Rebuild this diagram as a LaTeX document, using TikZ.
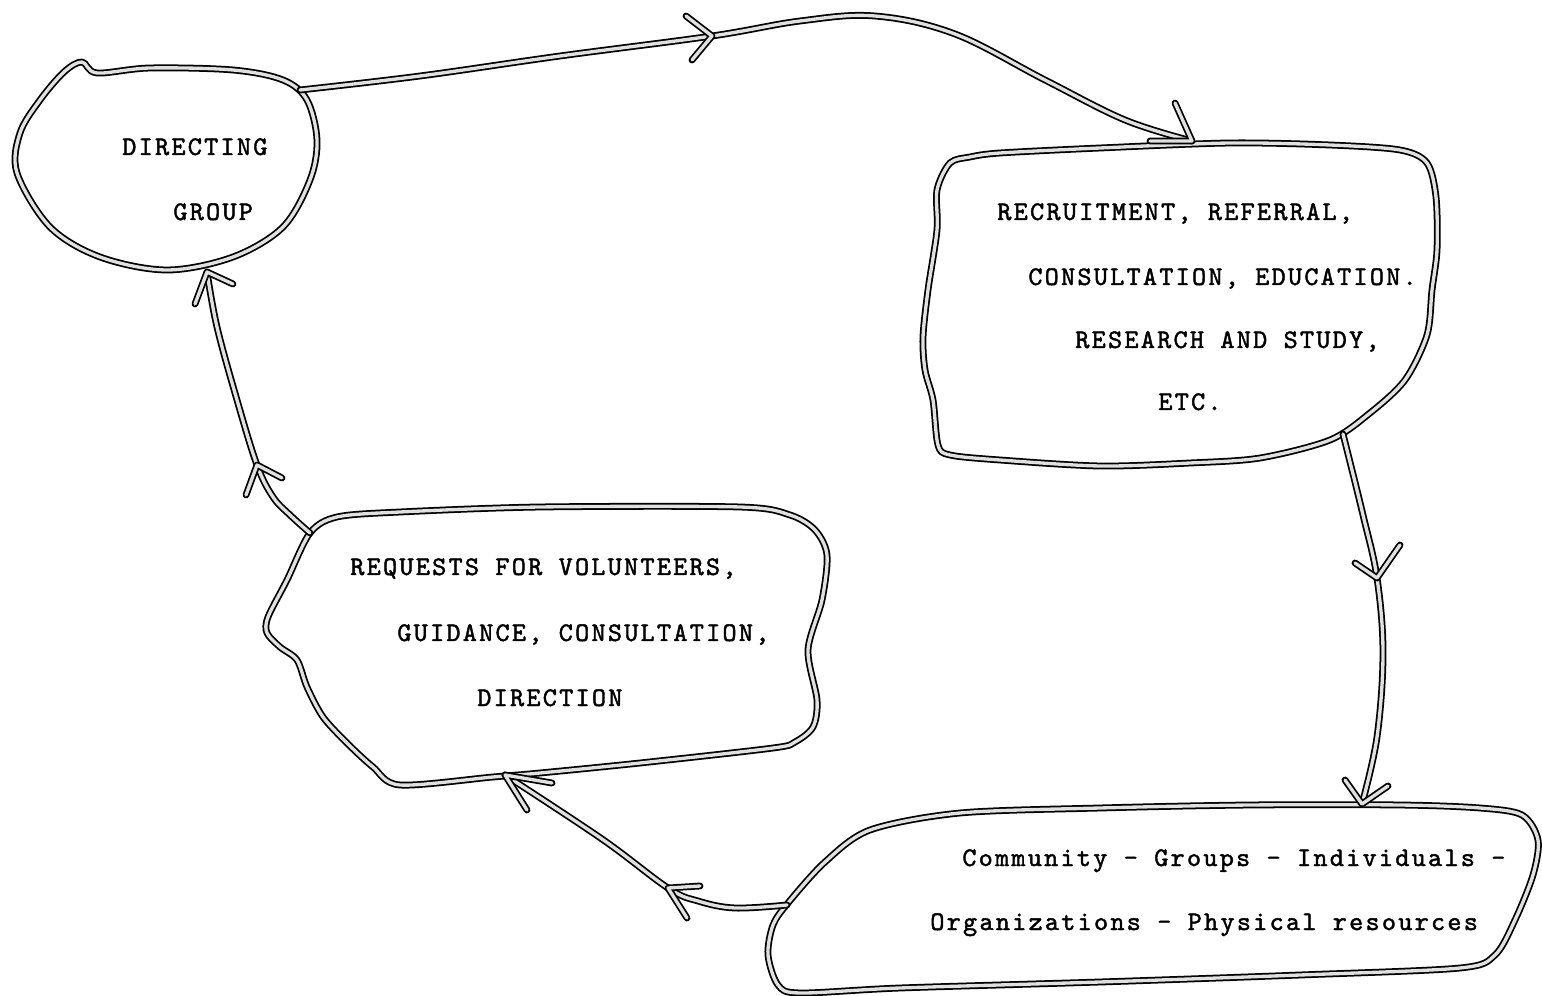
\documentclass[tikz,border=0pt]{standalone}
\usepackage{fontspec}
\newfontfamily\tw[LetterSpace=8.4,FakeBold=1.6]{lmmono10-regular.otf}
\begin{document}
\begin{tikzpicture}[x=0.02cm,y=-0.02cm,
  hand/.style={draw=black,line width=1pt,double=black!12,double distance=1.9pt,line cap=round,line join=round},
  txt/.style={anchor=base west,inner sep=0pt,font=\tw\fontsize{15.3}{18}\selectfont}]
\useasboundingbox (0,0) rectangle (1542,996);

% ---------- blobs ----------
% Directing group
\draw[hand] plot[smooth cycle,tension=0.55] coordinates {
  (82,62) (97,73) (150,68) (233,70) (283,80) (307,100) (317,140) (310,180)
  (283,227) (233,257) (167,270) (100,257) (50,227) (17,173) (20,133) (40,100) (64,72)};
% Recruitment
\draw[hand] plot[smooth cycle,tension=0.5] coordinates {
  (1000,153) (1100,148) (1230,143) (1330,145) (1400,150) (1427,163) (1436,197)
  (1437,250) (1432,290) (1427,335) (1405,380) (1370,413) (1330,440) (1260,458)
  (1190,463) (1100,466) (1000,460) (950,455) (938,445) (933,400) (925,370)
  (923,337) (928,290) (937,230) (937,190) (950,163) (970,157)};
% Requests
\draw[hand] plot[smooth cycle,tension=0.5] coordinates {
  (337,517) (400,512) (540,507) (740,507) (790,515) (815,530) (827,555)
  (822,600) (808,650) (817,700) (813,727) (795,742) (773,748) (640,763)
  (540,773) (493,777) (400,785) (373,767) (347,743) (323,717) (307,687)
  (297,660) (280,647) (267,633) (268,617) (287,580) (310,533)};
% Community
\draw[hand] plot[smooth cycle,tension=0.5] coordinates {
  (870,830) (960,813) (1100,808) (1250,805) (1400,805) (1480,808) (1522,815)
  (1538,840) (1533,875) (1515,920) (1495,955) (1460,968) (1300,975)
  (1100,982) (900,988) (800,993) (778,985) (768,955) (773,925) (788,903) (825,862)};

% ---------- connector anchors ----------
\coordinate (dR) at (300,90);
\coordinate (mA) at (712,36);
\coordinate (rT) at (1192,141);
\coordinate (rB) at (1343,434);
\coordinate (mC) at (1377,578);
\coordinate (cT) at (1362,804);
\coordinate (cL) at (787,905);
\coordinate (mG) at (668,888);
\coordinate (qB) at (505,775);
\coordinate (qT) at (310,533);
\coordinate (mF) at (257,465);
\coordinate (dB) at (207,272);

% ---------- connectors ----------
\draw[hand] plot[smooth,tension=0.6] coordinates {(dR) (420,76) (560,56) (mA) (800,21) (875,16) (955,34) (1045,80) (1125,120) (rT)};
\draw[hand] plot[smooth,tension=0.6] coordinates {(rB) (1363,515) (mC) (1383,653) (1377,737) (cT)};
\draw[hand] plot[smooth,tension=0.6] coordinates {(cL) (735,908) (698,901) (mG) (602,839) (qB)};
\draw[hand] plot[smooth,tension=0.6] coordinates {(qT) (290,515) (273,497) (mF) (237,400) (217,327) (dB)};

% ---------- arrowheads ----------
\draw[hand] (mA) ++(-26,-20) -- (mA) -- ++(-20,24);
\draw[hand] (rT) ++(-17,-38) -- (rT) -- ++(-42,0);
\draw[hand] (mC) ++(-22,-15) -- (mC) -- ++(23,-33);
\draw[hand] (cT) ++(-17,-24) -- (cT) -- ++(26,-18);
\draw[hand] (mG) ++(32,-2) -- (mG) -- ++(19,30);
\draw[hand] (qB) ++(22,35) -- (qB) -- ++(47,8);
\draw[hand] (mF) ++(-11,30) -- (mF) -- ++(25,13);
\draw[hand] (dB) ++(-12,32) -- (dB) -- ++(26,12);

% ---------- texts ----------
\node[txt] (tDir1) at (122,155) {DIRECTING};
\node[txt] (tDir2) at (173,220) {GROUP};
\node[txt] (tRec1) at (997,220) {RECRUITMENT, REFERRAL,};
\node[txt] (tRec2) at (1028,285) {CONSULTATION, EDUCATION.};
\node[txt] (tRec3) at (1075,348) {RESEARCH AND STUDY,};
\node[txt] (tRec4) at (1158,410) {ETC.};
\node[txt] (tReq1) at (350,575) {REQUESTS FOR VOLUNTEERS,};
\node[txt] (tReq2) at (397,641) {GUIDANCE, CONSULTATION,};
\node[txt] (tReq3) at (477,706) {DIRECTION};
\node[txt] (tCom1) at (962,866) {Community - Groups - Individuals -};
\node[txt] (tCom2) at (930,930) {Organizations - Physical resources};
\end{tikzpicture}
\end{document}
